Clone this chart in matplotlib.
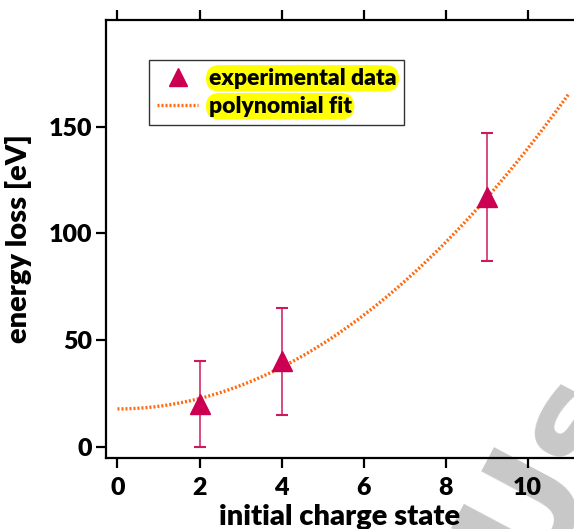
import numpy as np
import matplotlib.pyplot as plt
from matplotlib.lines import Line2D

# measured data (initial charge state vs energy loss)
charge = [2, 4, 9]
energy_loss = [20, 40, 117]
energy_err = [20, 25, 30]

# polynomial fit coefficients (highest power first)
fit_coeffs = [1.22, 0.0, 17.7]
fit_range = [0, 11]

xticks = [0, 2, 4, 6, 8, 10]
yticks = [0, 50, 100, 150]

plt.rcParams['font.family'] = ['Lato', 'DejaVu Sans']
plt.rcParams['font.weight'] = 'heavy'

fig = plt.figure(figsize=(5.74, 5.29), dpi=100)
ax = fig.add_axes([106 / 574, 71 / 529, 1 - 106 / 574, 438 / 529])
ax.set_facecolor('none')

# fit curve
xf = np.linspace(fit_range[0], fit_range[1], 300)
ax.plot(xf, np.polyval(fit_coeffs, xf), color='#FF6A10', lw=2.4,
        ls=(0, (0.6, 0.6)), zorder=2)

# data with error bars
ax.errorbar(charge, energy_loss, yerr=energy_err, fmt='none',
            ecolor='#CC1A5E', elinewidth=1.1, capsize=4, capthick=1.5, zorder=3)
ax.plot(charge, energy_loss, ls='none', marker='^', ms=14,
        color='#CC0052', zorder=4)

ax.set_xlim(-0.28, 11.13)
ax.set_ylim(-5.3, 200)
ax.set_xticks(xticks)
ax.set_yticks(yticks)

for s in ['left', 'bottom', 'top']:
    ax.spines[s].set_linewidth(1.6)
ax.spines['right'].set_visible(False)
ax.tick_params(axis='both', direction='out', length=7, width=1.6,
               labelsize=18)
ax.tick_params(axis='x', top=True, pad=7)
ax.tick_params(axis='y', pad=3)
for lbl in ax.get_xticklabels() + ax.get_yticklabels():
    lbl.set_fontweight('heavy')

ax.set_xlabel('initial charge state', fontsize=21, fontweight='heavy', labelpad=3)
ax.set_ylabel('energy loss [eV]', fontsize=21, fontweight='heavy', labelpad=12)

handles = [
    Line2D([], [], ls='none', marker='^', ms=13, color='#CC0052'),
    Line2D([], [], color='#FF6A10', lw=2.4, ls=(0, (0.6, 0.6))),
]
leg = ax.legend(handles, ['experimental data', 'polynomial fit'],
                loc='upper left', bbox_to_anchor=(0.092, 0.909), fontsize=16.5,
                frameon=True, fancybox=False, edgecolor='black',
                borderaxespad=0, handlelength=1.8, handletextpad=0.45,
                borderpad=0.35, labelspacing=0.3)
leg.get_frame().set_linewidth(1.0)
for t in leg.get_texts():
    t.set_fontweight('heavy')
    t.set_bbox(dict(boxstyle='round,pad=0.12,rounding_size=0.6',
                    fc='#FFFF00', ec='none'))

# faint watermark in the lower right corner
fig.text(0.95, 0.115, 'Us', fontsize=105, color='#C8C8C8', rotation=62,
         ha='center', va='center', fontfamily='DejaVu Sans', zorder=-1)

fig.savefig('out.png', dpi=100)
